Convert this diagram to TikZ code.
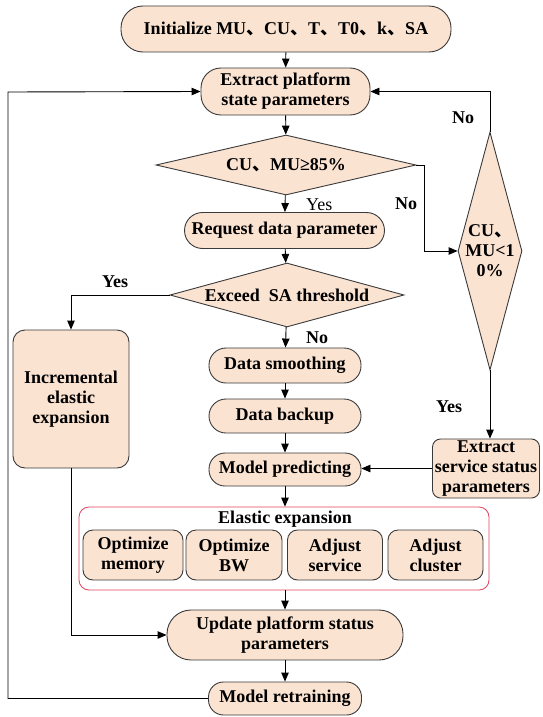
\documentclass[tikz,border=0pt]{standalone}
\usepackage{fontspec}
\setmainfont{Liberation Serif}
\newfontfamily\cjk{Noto Sans CJK SC}
\usetikzlibrary{shapes.geometric,arrows.meta}
\newcommand\dun{{\cjk 、}}
\definecolor{peach}{HTML}{FBE3D2}
\definecolor{edge}{HTML}{3A3A3A}
\definecolor{frame}{HTML}{E0405A}

\begin{document}
\begin{tikzpicture}[x=1pt,y=-1pt,
  every node/.style={font=\fontsize{18}{20}\selectfont\bfseries, align=center, text=black},
  box/.style={draw=edge, fill=peach, line width=0.9pt, rounded corners=#1, inner sep=0pt},
  dia/.style={draw=edge, fill=peach, line width=0.9pt, diamond, inner sep=0pt},
  lbl/.style={inner sep=0pt},
  flow/.style={draw=black, line width=0.9pt, -{Triangle[length=9pt,width=7.5pt]}}
]
\useasboundingbox (0,0) rectangle (543,717);

% main column
\node[box=22pt, minimum width=330pt, minimum height=46pt] (init) at (286,29)
  {Initialize MU\dun CU\dun T\dun T0\dun k\dun SA};
\node[box=20pt, minimum width=169pt, minimum height=47pt] (extract) at (285.5,91.5)
  {Extract platform\\state parameters};
\node[dia, minimum width=260pt, minimum height=60pt, aspect=4.3] (d1) at (286,165)
  {CU\dun MU≥85\%};
\node[box=18pt, minimum width=200pt, minimum height=36pt] (request) at (284.5,230.5)
  {Request data parameter};
\node[dia, minimum width=234pt, minimum height=64pt, aspect=3.6] (d2) at (287,295)
  {Exceed\ \ SA threshold};
\node[box=17pt, minimum width=152pt, minimum height=35pt] (smooth) at (285,365.5)
  {Data smoothing};
\node[box=17pt, minimum width=152pt, minimum height=34pt] (backup) at (285,416)
  {Data backup};
\node[box=16pt, minimum width=152pt, minimum height=33pt] (predict) at (285,469.5)
  {Model predicting};

% elastic expansion group
\node[draw=frame, line width=0.8pt, rounded corners=10pt, minimum width=410pt,
  minimum height=83pt, inner sep=0pt] (group) at (284,548.5) {};
\node[lbl] (gtitle) at (285,519) {Elastic expansion};
\node[box=10pt, minimum width=100pt, minimum height=50pt] (s1) at (133,555) {Optimize\\memory};
\node[box=10pt, minimum width=96pt, minimum height=50pt] (s2) at (234,555) {Optimize\\BW};
\node[box=10pt, minimum width=95pt, minimum height=50pt] (s3) at (335,555) {Adjust\\service};
\node[box=10pt, minimum width=95pt, minimum height=50pt] (s4) at (435.5,555) {Adjust\\cluster};

\node[box=24pt, minimum width=236pt, minimum height=50pt] (update) at (285,635)
  {Update platform status\\parameters};
\node[box=15pt, minimum width=153pt, minimum height=33pt] (retrain) at (285,698.5)
  {Model retraining};

% side branches
\node[box=12pt, minimum width=116pt, minimum height=138pt] (incr) at (71,399)
  {Incremental\\elastic\\expansion};
\node[dia, minimum width=64pt, minimum height=238pt, aspect=0.269] (d3) at (490,251)
  {CU\dun\\MU<1\\0\%};
\node[box=8pt, minimum width=107pt, minimum height=59pt] (service) at (486,468.5)
  {Extract\\service status\\parameters};

% branch labels
\node[lbl, font=\fontsize{18}{20}\selectfont\mdseries, anchor=west] (yes1) at (306,205) {Yes};
\node[lbl] (no1) at (406,204) {No};
\node[lbl] (no2) at (463,118) {No};
\node[lbl] (yes2) at (449,407) {Yes};
\node[lbl] (yes3) at (115,282) {Yes};
\node[lbl] (no3) at (317,338) {No};

\coordinate (fb) at (8,92);

% connectors
\draw[flow] (init) -- (extract);
\draw[flow] (extract) -- (d1);
\draw[flow] (d1) -- (request);
\draw[flow] (request) -- (d2);
\draw[flow] (d2) -- (smooth);
\draw[flow] (smooth) -- (backup);
\draw[flow] (backup) -- (predict);
\draw[flow] (predict) -- (group.north -| predict);
\draw[flow] (group.south -| update) -- (update);
\draw[flow] (update) -- (retrain);
\draw[flow] (d1.east) -- ++(8,0) |- (d3.west);
\draw[flow] (d3.north) |- (extract.east);
\draw[flow] (d3.south) -- (d3.south |- service.north);
\draw[flow] (service.west) -- (service.west -| predict.east);
\draw[flow] (d2.west) -| (incr.north);
\draw[flow] (incr.south) |- (update.west);
\draw[flow] (retrain.west) -| (fb) -- (extract.west);
\end{tikzpicture}
\end{document}
